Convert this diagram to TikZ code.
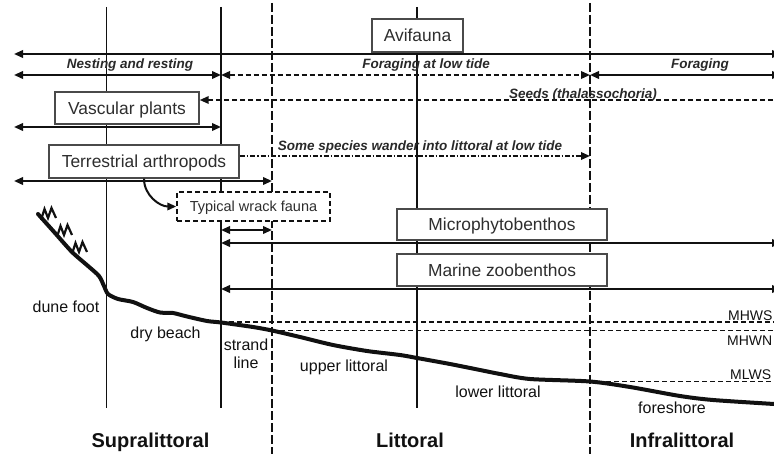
\documentclass[tikz,border=0pt]{standalone}
\usepackage{fontspec}
\setmainfont{Liberation Sans}
\usetikzlibrary{arrows.meta,positioning,calc}
\definecolor{ink}{HTML}{111111}
\definecolor{frame}{HTML}{4A4A4A}
\definecolor{boxtext}{HTML}{2E2E2E}
\tikzset{>={Triangle[length=9pt,width=7.5pt]},
box/.style={draw=frame,line width=1.4pt,fill=white,inner sep=0pt,text height=12.5pt,text depth=0pt,text=boxtext,font=\fontsize{17.4}{20}\selectfont},
wrackbox/.style={box,draw=ink,line width=1.5pt,dash pattern=on 5pt off 3pt,text height=10.5pt,font=\fontsize{14.5}{17}\selectfont},
arr/.style={line width=2pt,ink},
dasharr/.style={arr,line width=1.8pt,dash pattern=on 5pt off 3pt},
dotarr/.style={arr,line width=1.7pt,dash pattern=on 5pt off 2pt on 1.5pt off 2pt},
zone/.style={line width=1.6pt,ink},
zonedash/.style={zone,line width=1.8pt,dash pattern=on 9pt off 3pt},
tide/.style={line width=1.7pt,ink,dash pattern=on 5pt off 3pt},
shore/.style={line width=4pt,ink,line join=round,line cap=round},
tuft/.style={line width=2.2pt,ink,line join=miter},
habitat/.style={font=\bfseries\itshape\fontsize{13.5}{16}\selectfont,text=ink!90,inner sep=0pt,anchor=base},
smalllabel/.style={font=\fontsize{16}{18}\selectfont,text=ink,inner sep=0pt,anchor=base},
tidelabel/.style={font=\fontsize{14}{16}\selectfont,text=ink,inner sep=0pt,anchor=base west},
zonelabel/.style={font=\bfseries\fontsize{20}{22}\selectfont,text=ink,inner sep=0pt,anchor=base}}
\begin{document}
\begin{tikzpicture}[x=1pt,y=-1pt]
\useasboundingbox (0,0) rectangle (774,454);
\clip (0,0) rectangle (774,454);
% zone boundaries and rows
\coordinate (top) at (0,7); \coordinate (bot) at (0,408);
\coordinate (dtop) at (0,3); \coordinate (dbot) at (0,456);
\coordinate (foot) at (106.5,0); \coordinate (strand) at (221,0);
\coordinate (wet) at (272,0); \coordinate (mid) at (417,0);
\coordinate (low) at (590,0);
\coordinate (lft) at (14,0); \coordinate (rgt) at (781,0);
\coordinate (r1) at (0,54); \coordinate (r2) at (0,75); \coordinate (r3) at (0,100);
\coordinate (r4) at (0,127); \coordinate (r5) at (0,156); \coordinate (r6) at (0,181);
\coordinate (r7) at (0,230); \coordinate (r8) at (0,243); \coordinate (r9) at (0,289);
\coordinate (mhws) at (0,322); \coordinate (mhwn) at (0,330.5); \coordinate (mlws) at (0,381.5);
\foreach \c in {foot,strand,mid} \draw[zone] (\c |- top) -- (\c |- bot);
\foreach \c in {wet,low} \draw[zonedash] (\c |- dtop) -- (\c |- dbot);
% tide levels
\draw[tide] (strand |- mhws) -- (rgt |- mhws);
\draw[tide] (wet |- mhwn) -- (rgt |- mhwn);
\draw[tide] (low |- mlws) -- (rgt |- mlws);
\node[tidelabel] (lhws) at (728,320.5) {MHWS};
\node[tidelabel] (lhwn) at (727,345) {MHWN};
\node[tidelabel] (llws) at (730,380) {MLWS};
% beach profile
\draw[shore] plot[smooth,tension=0.45] coordinates {(38,214) (55,233) (72,252) (88,266) (99,276) (104,286) (108,294) (118,299) (133,302) (147,308) (160,312.5) (173,313) (187,316.5) (207,321) (221,322.5) (253,327) (272,330.5) (300,337) (333,345) (367,351) (400,355) (417,358) (450,364) (480,370) (500,374) (530,379) (590,381.5) (630,387) (680,396) (713,400) (774,404) (790,405)};
\foreach \p in {(41,220),(57,237),(72,254)}
  \draw[tuft] \p -- ++(3.5,-11) -- ++(3.5,9) -- ++(3.5,-10) -- ++(4.5,10);
% boxes
\node[box,minimum width=91pt,minimum height=33pt] (avi) at (417.5,35.5) {Avifauna};
\node[box,minimum width=144pt,minimum height=32pt] (vasc) at (127,108) {Vascular plants};
\node[box,minimum width=190pt,minimum height=33pt] (terr) at (144,161.5) {Terrestrial arthropods};
\node[wrackbox,minimum width=153pt,minimum height=29pt] (wrack) at (253.5,206.5) {Typical wrack fauna};
\node[box,minimum width=210pt,minimum height=31pt] (micro) at (502,224.5) {Microphytobenthos};
\node[box,minimum width=210pt,minimum height=32pt] (zoo) at (502,270) {Marine zoobenthos};
% ranges
\draw[arr,<->] (lft |- r1) -- (rgt |- r1);
\draw[arr,<->] (lft |- r2) -- (strand |- r2);
\draw[dasharr,<->] (strand |- r2) -- (low |- r2);
\draw[arr,<->] (low |- r2) -- (rgt |- r2);
\draw[dasharr,->] (rgt |- r3) -- (vasc.east |- r3);
\draw[arr,<->] (lft |- r4) -- (strand |- r4);
\draw[dotarr,->] (terr.east |- r5) -- (low |- r5);
\draw[arr,<->] (lft |- r6) -- (wet |- r6);
\draw[arr,->] (terr.south) to[out=-90,in=180] (wrack.west);
\draw[arr,<->] (strand |- r7) -- (wet |- r7);
\draw[arr,<->] (strand |- r8) -- (rgt |- r8);
\draw[arr,<->] (strand |- r9) -- (rgt |- r9);
% labels
\node[habitat] (nest) at (130,68.5) {Nesting and resting};
\node[habitat] (forlow) at (426,68.5) {Foraging at low tide};
\node[habitat] (forag) at (700,68.5) {Foraging};
\node[habitat] (seeds) at (583,98.5) {Seeds (thalassochoria)};
\node[habitat] (wander) at (420,151) {Some species wander into littoral at low tide};
\node[smalllabel] (dune) at (66,313) {dune foot};
\node[smalllabel] (dry) at (165.5,339) {dry beach};
\node[smalllabel] (str) at (246,351) {strand};
\node[smalllabel] (strl) at (246,369) {line};
\node[smalllabel] (upper) at (344,371) {upper littoral};
\node[smalllabel] (lower) at (498,397) {lower littoral};
\node[smalllabel] (fore) at (672,413) {foreshore};
\node[zonelabel] (supra) at (150.5,447) {Supralittoral};
\node[zonelabel] (litt) at (410,447) {Littoral};
\node[zonelabel] (infra) at (682,447) {Infralittoral};
\end{tikzpicture}
\end{document}
